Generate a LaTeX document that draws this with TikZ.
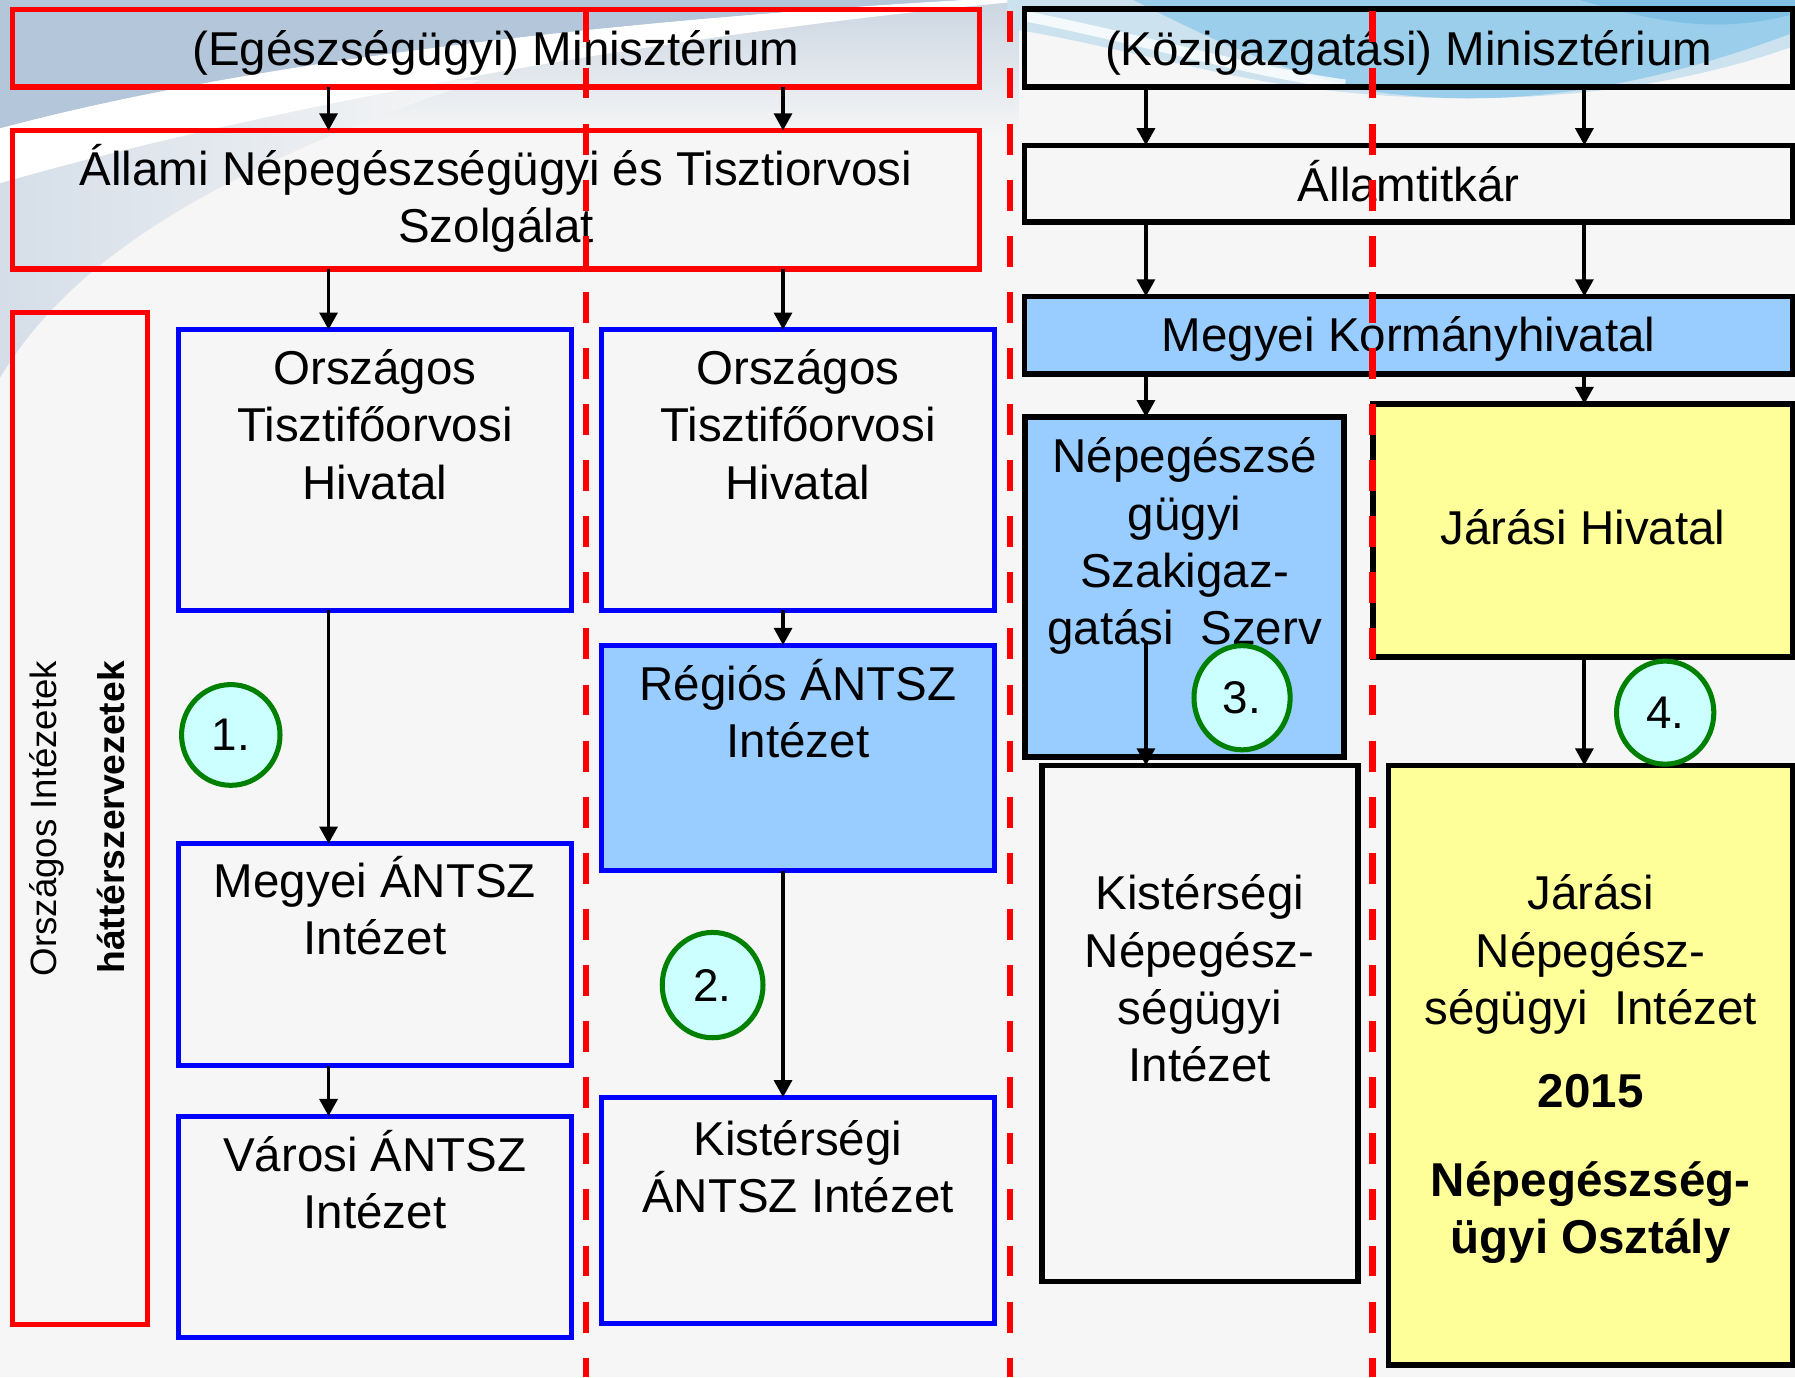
\documentclass[tikz,border=0pt]{standalone}
\usepackage{fontspec}
\setmainfont{Liberation Sans}
\usetikzlibrary{shapes.geometric,arrows.meta}
\definecolor{bgcol}{HTML}{F6F6F6}
\definecolor{bluegray}{HTML}{B3C6DA}
\definecolor{midgray}{HTML}{CBD6E2}
\definecolor{palegray}{HTML}{D5DEE8}
\definecolor{paleblue}{HTML}{CCE2EE}
\definecolor{swoosh}{HTML}{9ACEEB}
\definecolor{swooshdark}{HTML}{80C0E4}
\definecolor{fillblue}{HTML}{99CCFF}
\definecolor{fillyellow}{HTML}{FFFF99}
\definecolor{numcyan}{HTML}{CCFFFF}
\definecolor{numgreen}{HTML}{008000}
\newcommand\bxt[4]{\parbox[c][#2pt][t]{#1pt}{\centering\rule{0pt}{#3pt}#4}}
\begin{document}
\begin{tikzpicture}[x=1pt,y=-1pt,
  boxbase/.style={inner sep=0pt, outer sep=0pt, anchor=north west, font=\fontsize{41.5}{50}\selectfont},
  redbox/.style={boxbase, draw=red, line width=4.6pt},
  bluebox/.style={boxbase, draw=blue, line width=4.4pt},
  blackbox/.style={boxbase, draw=black, line width=5pt},
  bfill/.style={fill=fillblue},
  yfill/.style={fill=fillyellow},
  num/.style={ellipse, draw=numgreen, line width=4.4pt, fill=numcyan, inner sep=0pt, font=\fontsize{40}{48}\selectfont},
  arr/.style={draw=black, line width=3.4pt, -{Triangle[width=15.5pt,length=15pt]}},
  divider/.style={draw=red, line width=5.5pt, dash pattern=on 27pt off 22pt},
  vtext/.style={rotate=90, anchor=base, inner sep=0pt}
]
\useasboundingbox (0,0) rectangle (1568,1203);
% background
\fill[bgcol] (0,0) rectangle (1568,1203);
\shade[top color=midgray, bottom color=bgcol] (0,0) rectangle (890,120);
\shade[left color=palegray, right color=bgcol] (0,330) .. controls (60,230) and (180,150) .. (420,70) -- (0,70) -- cycle;
\fill[white] (0,112) .. controls (250,45) and (600,14) .. (840,0) -- (905,0) .. controls (650,22) and (280,80) .. (0,160) -- cycle;
\fill[bluegray] (0,0) -- (840,0) .. controls (600,14) and (250,45) .. (0,112) -- cycle;
\fill[paleblue] (880,0) -- (1568,0) -- (1568,40) .. controls (1400,100) and (1200,95) .. (1050,60) .. controls (980,45) and (920,30) .. (880,25) -- cycle;
\fill[swoosh] (990,0) .. controls (1060,35) and (1110,60) .. (1200,80) .. controls (1340,100) and (1470,65) .. (1568,28) -- (1568,0) -- cycle;
\fill[swooshdark] (1380,0) .. controls (1450,20) and (1500,30) .. (1568,12) -- (1568,0) -- cycle;
\draw[white, line width=9pt, opacity=0.8] (895,14) .. controls (1000,35) and (1090,62) .. (1175,74);
% left ministry column
\node[redbox] (A) at (11,8) {\bxt{844.5}{68}{49}{(Egészségügyi) Minisztérium}};
\node[redbox] (B) at (11,114) {\bxt{844.5}{121}{47.6}{Állami Népegészségügyi és Tisztiorvosi\\Szolgálat}};
\node[redbox] (O) at (11,273) {\bxt{118}{884}{0}{}};
\node[vtext, font=\fontsize{32}{38}\selectfont] (oi) at (49.5,715) {Országos Intézetek};
\node[vtext, font=\bfseries\fontsize{32.5}{38}\selectfont] (hsz) at (109,714) {háttérszervezetek};
\node[bluebox] (C1a) at (156,288) {\bxt{343}{245}{48}{Országos\\Tisztifőorvosi\\Hivatal}};
\node[bluebox] (C1b) at (156,737) {\bxt{343}{194}{47}{Megyei ÁNTSZ\\Intézet}};
\node[bluebox] (C1c) at (156,975) {\bxt{343}{193}{48}{Városi ÁNTSZ\\Intézet}};
\node[bluebox] (C2a) at (525.5,288) {\bxt{343}{245}{48}{Országos\\Tisztifőorvosi\\Hivatal}};
\node[bluebox, bfill] (C2b) at (525.5,563.5) {\bxt{343}{197}{48}{Régiós ÁNTSZ\\Intézet}};
\node[bluebox] (C2c) at (525.5,958.5) {\bxt{343}{198}{51}{Kistérségi\\ÁNTSZ Intézet}};
% right ministry column
\node[blackbox] (K) at (895,8) {\bxt{671}{68}{49}{(Közigazgatási) Minisztérium}};
\node[blackbox] (Al) at (895,127) {\bxt{671}{67}{49}{Államtitkár}};
\node[blackbox, bfill] (MK) at (895,259) {\bxt{671}{68}{48}{Megyei Kormányhivatal}};
\node[blackbox, bfill] (NS) at (895.5,364.5) {\bxt{278.5}{297}{48.5}{Népegészsé\\gügyi\\Szakigaz-\\gatási\ \ Szerv}};
\node[blackbox, yfill] (JH) at (1199.5,353) {\bxt{366.5}{221}{123}{Járási Hivatal}};
\node[blackbox] (KN) at (910,668.7) {\bxt{276}{450.8}{126}{Kistérségi\\Népegész-\\ségügyi\\Intézet}};
\node[blackbox, yfill] (JN) at (1213,668.7) {\bxt{353}{523.8}{126}{Járási\\Népegész-\\ségügyi\ \ Intézet\\[23pt]\textbf{2015}\\[27.5pt]\textbf{Népegészség-}\\\textbf{ügyi Osztály}}};
% connectors
\coordinate (xa) at (287,0);
\coordinate (xb) at (684,0);
\coordinate (xc) at (1001,0);
\coordinate (xd) at (1384,0);
\coordinate (nsout) at (1001,562);
\draw[arr] (A.south -| xa) -- (B.north -| xa);
\draw[arr] (A.south -| xb) -- (B.north -| xb);
\draw[arr] (B.south -| xa) -- (C1a.north -| xa);
\draw[arr] (B.south -| xb) -- (C2a.north -| xb);
\draw[arr] (C1a.south -| xa) -- (C1b.north -| xa);
\draw[arr] (C1b.south -| xa) -- (C1c.north -| xa);
\draw[arr] (C2a.south -| xb) -- (C2b.north -| xb);
\draw[arr] (C2b.south -| xb) -- (C2c.north -| xb);
\draw[arr] (K.south -| xc) -- (Al.north -| xc);
\draw[arr] (K.south -| xd) -- (Al.north -| xd);
\draw[arr] (Al.south -| xc) -- (MK.north -| xc);
\draw[arr] (Al.south -| xd) -- (MK.north -| xd);
\draw[arr] (MK.south -| xc) -- (NS.north -| xc);
\draw[arr] (MK.south -| xd) -- (JH.north -| xd);
\draw[arr] (nsout) -- (KN.north -| xc);
\draw[arr] (JH.south -| xd) -- (JN.north -| xd);
% numbered markers
\node[num, minimum width=86pt, minimum height=88pt] (n1) at (201.6,642) {1.};
\node[num, minimum width=88pt, minimum height=92pt] (n2) at (622.5,860.5) {2.};
\node[num, minimum width=84pt, minimum height=91pt] (n3) at (1085,609.5) {3.};
\node[num, minimum width=85pt, minimum height=90pt] (n4) at (1454.6,622.5) {4.};
% dividers
\draw[divider] (512,10) -- (512,1203);
\draw[divider] (882,10) -- (882,1203);
\draw[divider] (1199,10) -- (1199,1203);
\end{tikzpicture}
\end{document}
